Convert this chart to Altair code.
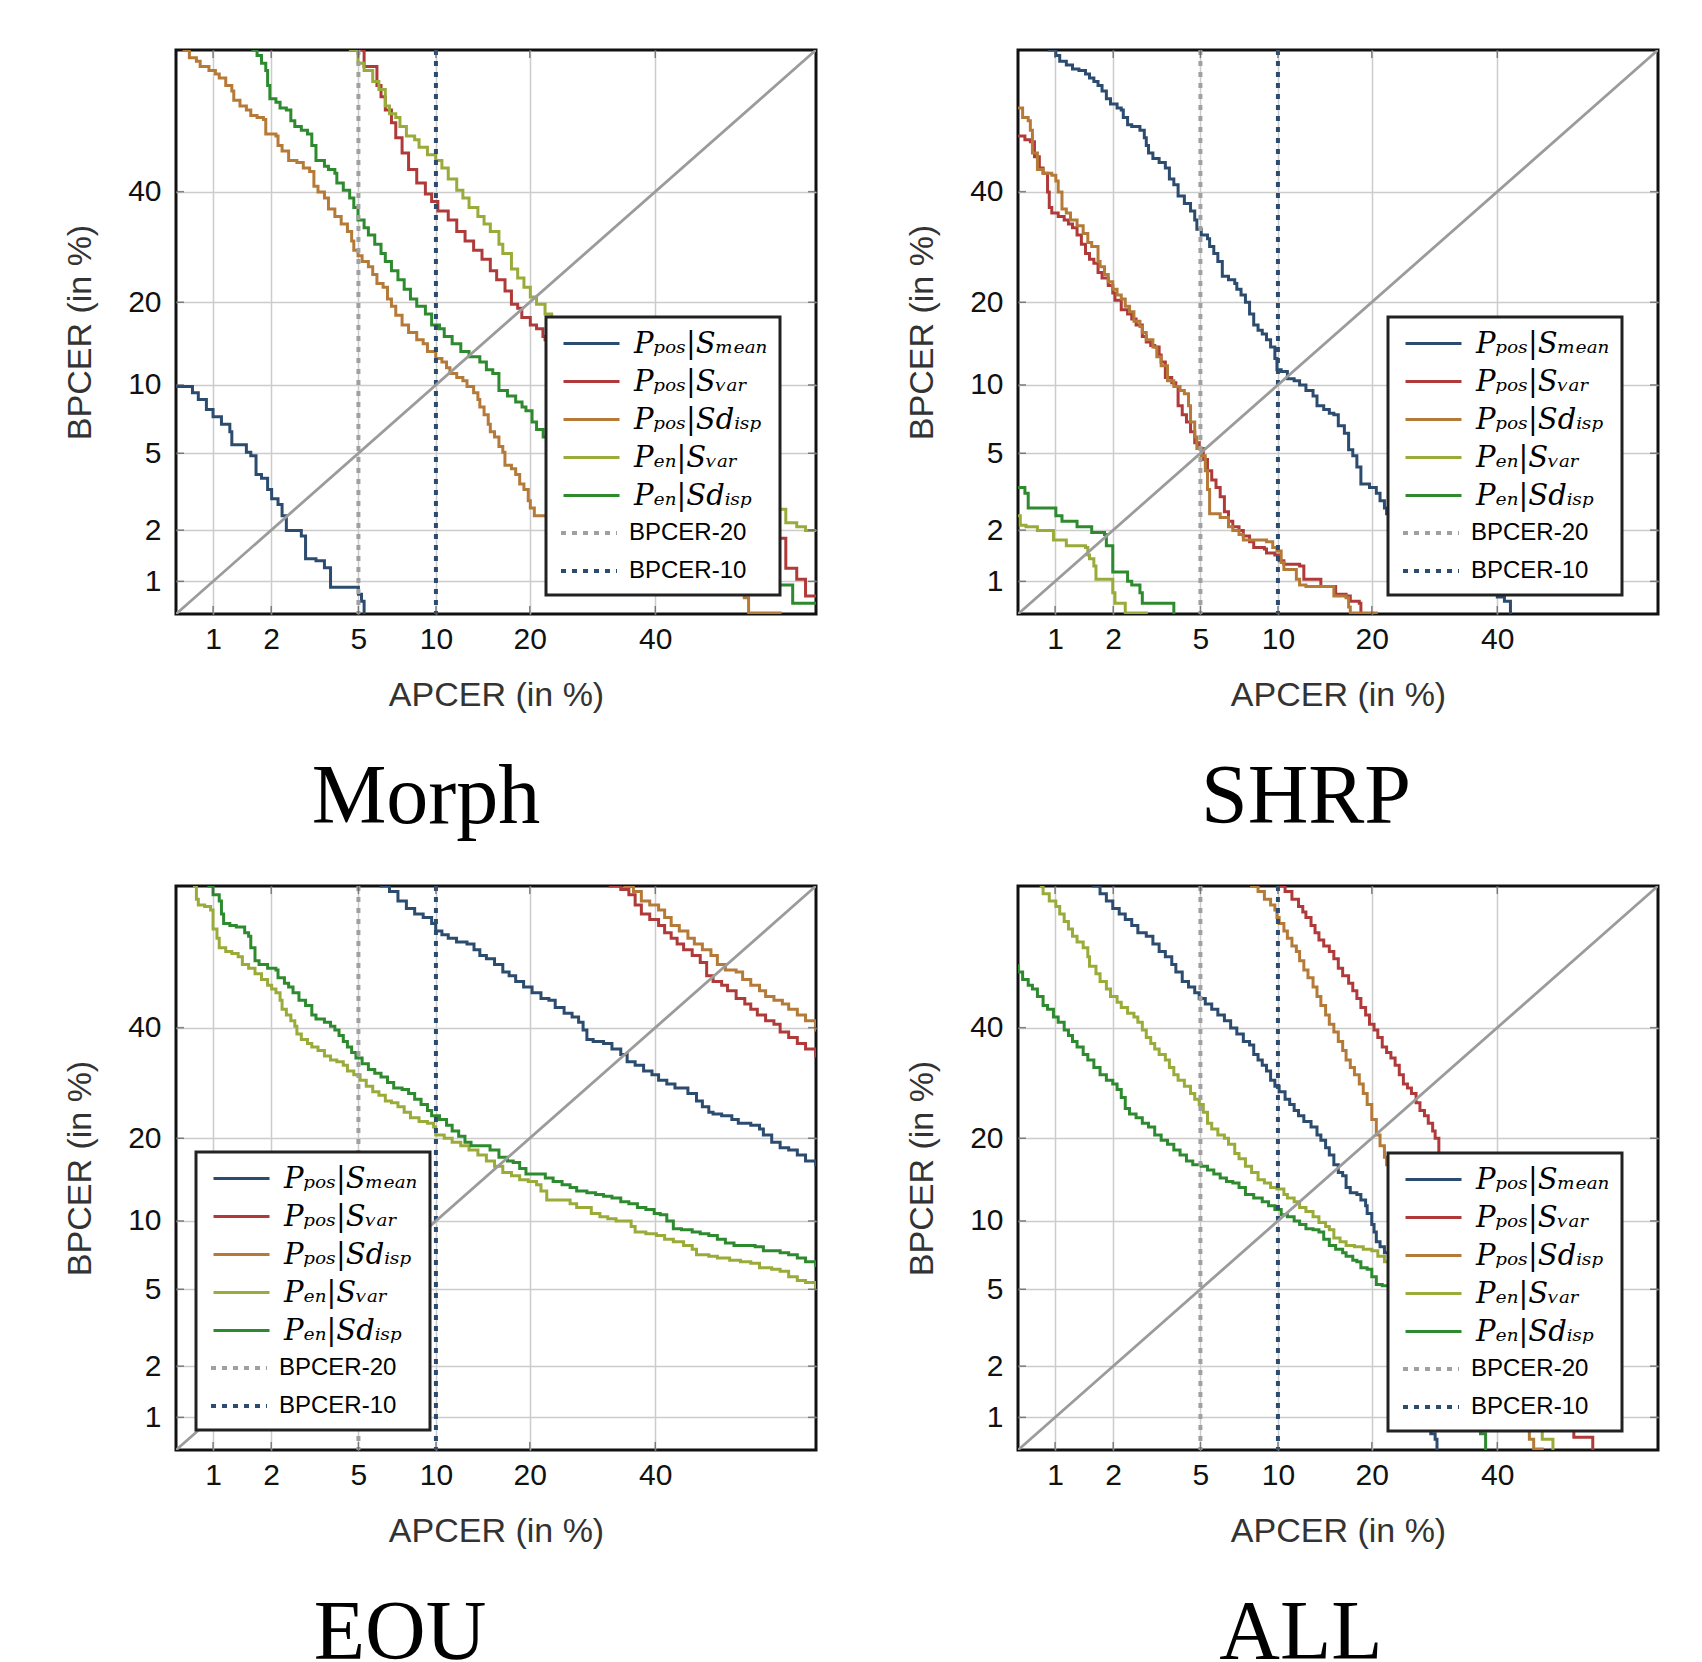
import altair as alt
import pandas as pd
from statistics import NormalDist

# ---------------- legend entries / styling lists ----------------
SERIES = ["Pₚₒₛ|Sₘₑₐₙ", "Pₚₒₛ|Sᵥₐᵣ", "Pₚₒₛ|Sdᵢₛₚ", "Pₑₙ|Sᵥₐᵣ", "Pₑₙ|Sdᵢₛₚ"]
COLORS = ["#2b4b6f", "#b03a3a", "#b57a38", "#9aab3a", "#2e8a2e"]
BLINES = ["BPCER-20", "BPCER-10"]
BLINE_COLORS = ["#a0a0a0", "#2b4b6f"]
BLINE_DASH = [[5, 6], [5, 6]]
TICKS = [1, 2, 5, 10, 20, 40]          # axis tick labels (in %)
BPCER_APCER = [5, 10]                  # APCER (%) of the BPCER-20 / BPCER-10 lines
DIAG = [0.3, 80]                       # EER diagonal end points (%)
AXIS_LIMITS = [-2.5, 0.5]              # probit (normal deviate) limits of both axes

# ---------------- Morph ----------------
MORPH_MEAN_X = [0.5, 0.77, 0.83, 0.92, 1.0, 1.11, 1.23, 1.26, 1.5, 1.58, 1.68, 1.79, 1.92, 2.01, 2.16, 2.26, 2.37, 2.79, 2.92, 3.26, 3.56, 3.79, 5.0, 5.15, 5.28]
MORPH_MEAN_Y = [9.85, 9.3, 8.7, 7.9, 7.35, 6.8, 6.3, 5.48, 5.06, 4.86, 3.94, 3.77, 3.30, 2.96, 2.76, 2.40, 1.99, 1.85, 1.37, 1.33, 1.21, 0.92, 0.83, 0.75, 0.4]
MORPH_VAR_X = [4.55, 4.68, 5.28, 5.96, 6.19, 6.44, 6.81, 7.08, 7.49, 7.93, 8.51, 9.16, 9.65, 10.16, 11.05, 11.82, 12.61, 13.46, 14.33, 15.23, 15.94, 16.91, 17.68, 18.45, 18.97, 20.07, 20.9, 21.77, 22.06, 25.0, 28.3, 32.0, 35.3, 39.0, 42.9, 47.0, 50.7, 54.5, 58.5, 64.0, 65.9, 67.4, 75]
MORPH_VAR_Y = [75, 69.2, 66.0, 62.2, 59.9, 57.2, 54.5, 51.3, 48.1, 44.6, 41.8, 39.5, 38.0, 36.1, 34.3, 32.1, 30.3, 28.6, 27.0, 25.0, 23.5, 21.7, 19.7, 19.1, 17.8, 16.8, 16.3, 15.3, 14.9, 12.6, 10.7, 9.0, 7.5, 6.2, 5.06, 4.1, 3.3, 2.5, 1.8, 1.2, 1.03, 0.81, 0.81]
MORPH_DISP_X = [0.62, 0.69, 0.74, 0.81, 0.85, 0.95, 1.03, 1.08, 1.17, 1.26, 1.29, 1.39, 1.50, 1.58, 1.70, 1.83, 1.88, 2.11, 2.16, 2.26, 2.43, 2.66, 2.85, 3.05, 3.19, 3.33, 3.56, 3.71, 3.96, 4.22, 4.49, 4.68, 4.78, 4.98, 5.18, 5.50, 5.73, 5.96, 6.31, 6.57, 6.81, 7.08, 7.49, 7.93, 8.51, 8.99, 9.32, 9.98, 10.5, 10.9, 11.2, 11.82, 12.4, 12.8, 13.46, 13.9, 14.1, 14.55, 15.0, 15.23, 15.7, 16.2, 16.65, 16.9, 17.68, 18.2, 18.7, 19.24, 19.8, 20.07, 20.6, 25, 30, 35, 40, 45, 50, 56.5, 57.3, 63.0]
MORPH_DISP_Y = [75, 69.15, 67.7, 67.0, 66.0, 65.2, 64.5, 63.7, 62.2, 61.1, 59.2, 58.0, 57.2, 56.0, 55.6, 55.2, 52.1, 51.7, 49.7, 48.5, 46.5, 46.1, 44.9, 44.2, 41.1, 39.9, 38.7, 36.5, 35.0, 33.5, 32.1, 30.3, 28.6, 27.6, 26.6, 25.7, 24.4, 22.9, 22.3, 20.5, 19.4, 18.1, 16.8, 15.8, 14.9, 14.4, 13.5, 12.7, 12.3, 11.7, 11.1, 10.7, 10.4, 9.85, 9.3, 8.7, 8.1, 7.5, 6.8, 6.3, 5.95, 5.38, 5.06, 4.38, 4.2, 3.94, 3.53, 3.30, 2.89, 2.64, 2.40, 2.1, 1.8, 1.5, 1.3, 1.15, 1.0, 0.79, 0.63, 0.3]
MORPH_EN_VAR_X = [4.5, 4.62, 4.98, 5.28, 5.73, 6.07, 6.44, 6.69, 7.08, 7.35, 7.78, 8.36, 8.68, 9.32, 9.98, 10.5, 11.05, 11.82, 12.4, 13.0, 13.9, 14.55, 15.23, 16.2, 16.65, 17.68, 18.45, 19.24, 20.07, 20.9, 22.06, 23.0, 24.5, 26.0, 28.0, 30.0, 35.0, 40.0, 45.0, 50.0, 55.0, 60.0, 64.0, 65.9, 67.4, 75]
MORPH_EN_VAR_Y = [75, 69.15, 66.6, 65.2, 63.0, 61.4, 58.0, 56.4, 55.6, 53.7, 51.7, 50.9, 49.3, 47.7, 46.5, 44.9, 42.6, 40.3, 38.7, 36.8, 35.0, 33.5, 32.1, 29.7, 28.0, 25.3, 23.8, 22.3, 20.8, 19.7, 18.3, 17.3, 16.0, 15.0, 13.5, 12.0, 9.5, 7.0, 5.5, 4.2, 3.3, 2.6, 2.2, 2.09, 1.99, 1.99]
MORPH_EN_DISP_X = [1.55, 1.62, 1.70, 1.79, 1.88, 1.92, 1.97, 2.11, 2.21, 2.37, 2.49, 2.60, 2.79, 2.98, 3.12, 3.26, 3.56, 3.71, 3.96, 4.04, 4.31, 4.59, 4.78, 4.98, 5.28, 5.50, 5.84, 6.19, 6.44, 6.81, 7.22, 7.63, 8.06, 8.51, 9.16, 9.65, 10.3, 10.7, 11.4, 12.2, 13.0, 14.1, 14.8, 15.5, 16.2, 17.2, 18.2, 19.0, 19.5, 20.3, 20.9, 21.8, 25, 30, 35, 40, 45, 50, 55, 60, 65.2, 75]
MORPH_EN_DISP_Y = [75, 69.15, 68.1, 66.6, 65.2, 62.2, 59.5, 58.8, 57.6, 57.2, 54.9, 53.7, 52.9, 52.1, 49.7, 46.5, 45.3, 44.6, 43.8, 41.8, 40.3, 38.7, 36.8, 34.3, 32.8, 31.4, 29.7, 28.0, 26.6, 25.0, 23.5, 22.0, 20.5, 19.4, 18.3, 16.8, 16.3, 15.3, 14.4, 13.5, 12.9, 12.3, 11.5, 11.1, 9.5, 9.0, 8.5, 8.1, 7.8, 6.96, 6.44, 5.95, 4.5, 3.5, 2.6, 2.0, 1.6, 1.3, 1.1, 0.95, 0.73, 0.73]

# ---------------- SHRP ----------------
SHRP_MEAN_X = [0.85, 0.93, 1.01, 1.06, 1.15, 1.24, 1.34, 1.45, 1.52, 1.60, 1.68, 1.76, 1.85, 1.94, 2.09, 2.19, 2.24, 2.35, 2.46, 2.69, 2.82, 2.88, 2.95, 3.09, 3.30, 3.52, 3.67, 3.84, 4.01, 4.27, 4.54, 4.73, 4.83, 5.04, 5.35, 5.46, 5.68, 5.90, 6.15, 6.51, 6.89, 7.02, 7.29, 7.58, 7.86, 8.15, 8.46, 8.77, 9.09, 9.41, 9.75, 9.92, 10.27, 10.8, 11.4, 11.9, 12.5, 13.2, 13.6, 14.3, 14.9, 15.4, 15.9, 16.6, 17.1, 17.6, 18.1, 18.6, 19.7, 20.6, 21.1, 21.7, 22.0, 25.0, 28.0, 31.0, 34.0, 37.0, 40.0, 41.3, 42.4]
SHRP_MEAN_Y = [75, 69.15, 68.1, 67.0, 66.3, 65.5, 65.2, 64.5, 63.7, 63.0, 62.2, 61.1, 59.5, 58.4, 57.6, 57.2, 55.6, 54.1, 53.7, 52.9, 51.3, 49.7, 48.1, 46.9, 46.1, 44.9, 42.6, 41.4, 39.1, 37.6, 36.1, 34.3, 32.5, 31.4, 30.7, 29.3, 28.0, 26.6, 24.1, 23.5, 22.9, 22.0, 21.1, 20.0, 18.3, 16.8, 16.1, 15.6, 14.9, 14.0, 12.7, 11.5, 11.3, 10.6, 10.4, 10.0, 9.5, 9.0, 8.2, 7.9, 7.6, 7.5, 6.7, 6.2, 5.2, 4.86, 4.29, 3.53, 3.38, 3.16, 2.89, 2.64, 2.46, 2.0, 1.7, 1.35, 1.1, 0.92, 0.8, 0.75, 0.4]
SHRP_VAR_X = [0.5, 0.68, 0.73, 0.77, 0.82, 0.86, 0.91, 0.93, 0.96, 1.04, 1.12, 1.18, 1.24, 1.31, 1.38, 1.45, 1.52, 1.60, 1.68, 1.76, 1.89, 1.99, 2.04, 2.19, 2.35, 2.46, 2.58, 2.76, 2.88, 3.02, 3.15, 3.30, 3.37, 3.52, 3.76, 3.92, 4.01, 4.18, 4.36, 4.54, 4.73, 4.94, 5.14, 5.35, 5.57, 5.80, 6.03, 6.27, 6.51, 6.77, 7.16, 7.44, 7.86, 8.15, 8.93, 9.09, 9.75, 10.1, 10.5, 11.9, 12.3, 14.0, 15.6, 16.8, 17.3, 18.4, 18.6]
SHRP_VAR_Y = [51.7, 50.9, 50.5, 47.3, 44.9, 43.8, 39.9, 36.8, 35.7, 35.0, 34.3, 33.5, 32.8, 31.4, 29.7, 28.0, 27.0, 26.3, 24.7, 23.8, 22.6, 21.4, 20.3, 18.9, 18.3, 17.6, 16.8, 15.3, 14.6, 14.2, 14.0, 13.1, 12.3, 10.7, 10.2, 9.85, 8.2, 7.5, 6.96, 6.3, 5.6, 5.27, 4.67, 4.11, 3.69, 3.38, 3.03, 2.52, 2.24, 2.09, 1.99, 1.85, 1.72, 1.59, 1.56, 1.48, 1.44, 1.33, 1.27, 1.24, 1.03, 0.93, 0.83, 0.81, 0.75, 0.73, 0.4]
SHRP_DISP_X = [0.5, 0.66, 0.71, 0.73, 0.75, 0.80, 0.86, 0.96, 1.01, 1.04, 1.09, 1.15, 1.21, 1.31, 1.41, 1.49, 1.56, 1.68, 1.72, 1.81, 1.89, 1.99, 2.09, 2.19, 2.29, 2.40, 2.52, 2.69, 2.76, 2.88, 3.09, 3.22, 3.37, 3.60, 3.84, 4.09, 4.27, 4.45, 4.54, 4.73, 4.83, 5.04, 5.24, 5.35, 5.46, 6.03, 6.51, 6.77, 7.16, 7.44, 9.09, 9.58, 9.92, 10.27, 10.5, 11.6, 11.9, 12.5, 15.4, 16.8, 17.1, 17.3, 20.6]
SHRP_DISP_Y = [57.6, 55.6, 54.9, 52.9, 48.1, 44.6, 43.8, 43.4, 42.2, 39.9, 36.5, 35.7, 34.3, 33.2, 31.7, 30.0, 29.3, 26.6, 25.7, 24.4, 23.2, 22.0, 21.1, 20.5, 19.4, 18.6, 17.3, 16.6, 15.8, 14.9, 14.0, 12.9, 11.9, 10.4, 9.85, 9.5, 9.2, 8.2, 6.96, 5.95, 5.27, 4.86, 4.11, 3.30, 2.46, 2.35, 2.09, 1.99, 1.89, 1.76, 1.72, 1.59, 1.52, 1.30, 1.18, 1.03, 0.95, 0.93, 0.81, 0.79, 0.69, 0.63, 0.3]
SHRP_EN_VAR_X = [0.5, 0.64, 0.69, 0.80, 0.98, 1.15, 1.45, 1.49, 1.52, 1.60, 1.64, 1.99, 2.04, 2.29, 2.88]
SHRP_EN_VAR_Y = [2.40, 2.13, 2.09, 1.99, 1.76, 1.63, 1.59, 1.44, 1.37, 1.24, 1.03, 0.85, 0.73, 0.63, 0.3]
SHRP_EN_DISP_X = [0.5, 0.68, 0.71, 1.01, 1.09, 1.31, 1.56, 1.81, 1.85, 1.99, 2.35, 2.46, 2.69, 2.76, 3.84]
SHRP_EN_DISP_Y = [3.38, 3.16, 2.64, 2.40, 2.24, 2.09, 1.94, 1.89, 1.63, 1.14, 1.00, 0.95, 0.85, 0.73, 0.4]

# ---------------- EOU ----------------
EOU_MEAN_X = [6.0, 6.19, 6.69, 7.22, 7.78, 8.36, 8.99, 9.65, 9.98, 10.5, 11.05, 11.8, 12.8, 13.5, 14.1, 14.8, 15.7, 16.65, 17.4, 18.2, 19.2, 20.3, 21.5, 22.6, 23.5, 24.8, 26.0, 27.0, 27.7, 28.3, 29.3, 31.0, 32.4, 33.9, 35.0, 36.4, 37.9, 39.4, 40.6, 42.1, 43.6, 46.0, 47.6, 48.7, 49.9, 50.7, 52.3, 54.2, 55.4, 57.7, 59.3, 60.0, 61.5, 63.0, 64.5, 66.0, 67.4, 69.1, 75]
EOU_MEAN_Y = [75, 69.15, 68.1, 66.3, 64.8, 63.7, 63.0, 61.8, 60.3, 59.5, 58.8, 58.0, 57.6, 56.4, 55.2, 54.5, 53.3, 51.7, 50.9, 49.7, 48.5, 47.3, 46.1, 45.7, 44.2, 43.0, 42.2, 41.1, 39.5, 37.6, 37.2, 36.8, 35.7, 34.6, 33.2, 32.5, 31.4, 30.7, 29.7, 29.0, 28.3, 27.3, 26.0, 25.0, 24.1, 23.8, 23.5, 22.9, 22.3, 22.0, 21.4, 20.5, 19.4, 18.6, 18.3, 17.6, 16.8, 16.3, 16.3]
EOU_VAR_X = [31.5, 32.1, 33.9, 35.3, 36.4, 37.5, 39.0, 40.6, 41.7, 42.9, 44.0, 45.2, 46.8, 48.3, 49.5, 50.7, 52.3, 53.4, 55.0, 56.6, 57.7, 58.9, 60.4, 61.9, 63.0, 64.5, 66.0, 67.4, 69.1, 75]
EOU_VAR_Y = [75, 69.15, 68.5, 67.5, 65.5, 63.7, 62.6, 61.4, 59.9, 58.8, 57.6, 56.4, 55.2, 53.7, 50.9, 49.7, 48.9, 47.7, 46.1, 44.9, 43.8, 42.6, 41.4, 40.7, 39.1, 38.0, 36.8, 35.7, 34.3, 34.3]
EOU_DISP_X = [34.0, 34.6, 36.1, 37.5, 39.0, 40.6, 41.7, 42.9, 44.4, 46.0, 47.2, 48.7, 50.3, 51.5, 53.0, 55.0, 56.2, 57.7, 59.3, 60.4, 61.9, 63.4, 64.5, 66.0, 67.4, 69.1, 75]
EOU_DISP_Y = [75, 69.15, 68.1, 66.3, 65.5, 64.5, 63.0, 61.4, 60.3, 58.8, 57.6, 56.4, 55.2, 53.3, 52.1, 51.7, 50.1, 48.9, 47.7, 46.5, 45.7, 44.9, 43.8, 42.6, 41.4, 39.5, 39.5]
EOU_EN_VAR_X = [0.7, 0.79, 0.81, 0.83, 0.90, 0.97, 1.0, 1.05, 1.08, 1.17, 1.26, 1.36, 1.43, 1.54, 1.66, 1.79, 1.92, 2.01, 2.11, 2.21, 2.26, 2.37, 2.49, 2.60, 2.66, 2.79, 2.98, 3.12, 3.33, 3.56, 3.79, 4.04, 4.31, 4.49, 4.78, 5.08, 5.39, 5.73, 6.07, 6.44, 6.81, 7.22, 7.63, 8.06, 8.68, 9.32, 9.81, 9.98, 10.7, 11.4, 12.2, 13.0, 13.9, 14.8, 15.7, 16.65, 17.68, 18.7, 19.8, 20.9, 21.5, 22.3, 25.7, 26.7, 29.0, 30.4, 31.7, 33.1, 35.7, 36.4, 38.3, 40.2, 41.7, 43.3, 45.2, 46.8, 47.6, 49.9, 51.5, 53.8, 55.8, 57.7, 59.3, 61.5, 63.0, 64.5, 66.0, 67.4, 69.1, 75]
EOU_EN_VAR_Y = [75, 69.15, 66.6, 65.5, 65.2, 64.5, 60.7, 58.8, 56.8, 56.0, 55.6, 54.9, 53.3, 52.5, 51.3, 50.1, 48.9, 48.1, 47.3, 45.7, 43.8, 42.6, 41.4, 40.3, 38.7, 37.6, 36.8, 36.1, 35.4, 34.3, 33.5, 33.2, 32.5, 31.4, 30.7, 29.7, 28.6, 27.6, 27.0, 26.0, 25.7, 25.0, 24.1, 23.2, 22.6, 22.3, 21.7, 20.5, 20.0, 19.4, 18.9, 18.3, 17.6, 16.8, 16.1, 15.3, 14.9, 14.4, 14.2, 13.8, 13.1, 12.1, 11.7, 11.3, 10.7, 10.4, 10.2, 10.0, 9.5, 9.0, 8.85, 8.7, 8.4, 8.2, 7.9, 7.6, 7.2, 7.08, 6.96, 6.8, 6.7, 6.6, 6.3, 6.2, 6.07, 5.72, 5.5, 5.38, 5.06, 5.06]
EOU_EN_DISP_X = [0.85, 0.95, 1.0, 1.08, 1.11, 1.14, 1.23, 1.33, 1.47, 1.54, 1.58, 1.66, 1.74, 1.92, 2.11, 2.16, 2.32, 2.43, 2.55, 2.72, 2.92, 3.12, 3.26, 3.56, 3.79, 3.96, 4.13, 4.31, 4.49, 4.68, 4.88, 5.18, 5.50, 5.84, 6.19, 6.57, 6.95, 7.49, 7.93, 8.36, 8.83, 9.32, 9.65, 10.3, 10.9, 11.4, 12.0, 12.6, 13.2, 15.2, 16.2, 17.2, 17.9, 18.7, 19.5, 22.1, 23.2, 24.5, 25.7, 26.7, 28.3, 29.7, 31.0, 32.4, 33.9, 35.3, 36.8, 38.3, 39.8, 40.9, 42.1, 43.3, 44.8, 46.8, 48.3, 49.9, 51.5, 53.0, 54.6, 58.5, 60.0, 63.0, 64.5, 66.0, 67.4, 69.1, 75]
EOU_EN_DISP_Y = [75, 69.15, 67.5, 66.3, 63.7, 61.8, 61.4, 61.1, 59.9, 59.2, 56.8, 54.1, 53.3, 52.5, 52.1, 50.5, 49.3, 48.5, 47.3, 45.7, 44.6, 42.6, 41.8, 41.1, 40.3, 39.5, 38.4, 37.2, 36.1, 35.0, 33.9, 32.8, 31.7, 31.0, 30.3, 29.3, 28.3, 28.0, 27.3, 26.3, 25.4, 24.4, 23.5, 22.9, 22.0, 21.1, 20.3, 19.4, 18.9, 18.3, 17.3, 16.8, 16.6, 15.8, 15.1, 14.6, 14.2, 13.8, 13.5, 13.1, 12.9, 12.7, 12.5, 12.3, 11.9, 11.7, 11.3, 11.1, 10.7, 10.6, 10.0, 9.3, 9.2, 9.0, 8.85, 8.7, 8.4, 8.1, 7.9, 7.8, 7.5, 7.35, 7.2, 6.96, 6.7, 6.44, 6.44]

# ---------------- ALL ----------------
ALL_MEAN_X = [1.5, 1.60, 1.72, 1.85, 1.99, 2.14, 2.29, 2.46, 2.63, 2.88, 3.09, 3.30, 3.52, 3.76, 3.92, 4.18, 4.45, 4.73, 4.94, 5.24, 5.57, 5.90, 6.27, 6.64, 7.02, 7.44, 7.86, 8.15, 8.46, 8.77, 9.09, 9.41, 9.75, 10.1, 10.6, 11.0, 11.4, 11.8, 12.3, 13.0, 13.6, 14.0, 14.5, 14.9, 15.4, 15.9, 16.4, 16.8, 17.3, 18.1, 18.6, 19.2, 19.4, 20.0, 20.3, 20.6, 21.1, 21.7, 22.3, 24.0, 26.0, 27.5, 28.6, 29.3, 29.6]
ALL_MEAN_Y = [75, 69.15, 67.7, 66.3, 64.8, 63.7, 62.6, 61.4, 59.9, 59.2, 57.6, 56.0, 54.9, 53.3, 51.7, 49.7, 48.5, 47.3, 46.1, 44.9, 43.8, 42.6, 41.4, 39.9, 38.7, 37.2, 36.5, 34.6, 33.5, 32.5, 31.4, 29.7, 28.6, 27.6, 26.3, 25.4, 24.4, 23.5, 22.6, 21.7, 20.5, 19.7, 18.6, 17.6, 16.3, 15.3, 14.9, 13.5, 12.9, 12.7, 12.1, 11.5, 10.7, 9.68, 9.0, 8.2, 7.8, 7.35, 6.7, 4.0, 2.2, 1.3, 0.79, 0.73, 0.4]
ALL_VAR_X = [9.9, 10.1, 10.6, 11.2, 11.8, 12.2, 12.5, 13.0, 13.4, 13.8, 14.3, 14.9, 15.4, 15.9, 16.4, 17.1, 17.6, 18.1, 18.6, 19.2, 19.7, 20.3, 20.8, 21.4, 22.0, 22.6, 23.2, 23.8, 24.4, 25.0, 25.6, 26.3, 26.9, 27.6, 28.2, 28.9, 29.3, 29.9, 35.0, 40.0, 45.0, 50.0, 53.0, 54.2, 57.7]
ALL_VAR_Y = [75, 69.15, 68.1, 66.6, 65.2, 64.1, 63.0, 61.4, 59.9, 58.4, 57.2, 56.0, 54.5, 52.5, 50.9, 49.3, 47.7, 46.1, 44.2, 42.6, 40.7, 39.5, 38.0, 36.1, 35.0, 33.9, 32.5, 30.7, 29.0, 28.3, 27.3, 25.7, 24.4, 23.5, 22.3, 21.1, 20.0, 17.8, 10.0, 6.0, 3.5, 2.0, 1.2, 0.75, 0.4]
ALL_DISP_X = [7.8, 8.0, 8.46, 8.93, 9.41, 9.75, 9.92, 10.1, 10.5, 10.8, 11.2, 11.6, 11.9, 12.3, 12.7, 13.2, 13.6, 14.0, 14.5, 14.9, 15.4, 15.9, 16.4, 16.8, 17.3, 17.8, 18.4, 18.9, 19.4, 20.0, 20.6, 21.1, 21.7, 22.0, 26.0, 30.0, 35.0, 40.0, 44.0, 45.9, 46.7, 48.3]
ALL_DISP_Y = [75, 69.15, 68.1, 66.6, 65.5, 64.5, 63.0, 61.8, 60.3, 58.8, 57.2, 56.0, 54.1, 52.1, 50.5, 48.5, 46.5, 44.6, 42.6, 40.7, 39.1, 37.2, 35.4, 33.5, 32.1, 30.7, 29.0, 27.3, 25.4, 22.9, 20.5, 18.9, 17.3, 16.3, 9.0, 5.5, 3.0, 1.7, 1.1, 0.73, 0.63, 0.3]
ALL_EN_VAR_X = [0.8, 0.84, 0.86, 0.93, 1.01, 1.06, 1.12, 1.18, 1.24, 1.31, 1.41, 1.49, 1.52, 1.64, 1.72, 1.85, 1.94, 2.09, 2.19, 2.35, 2.52, 2.63, 2.76, 2.88, 3.02, 3.15, 3.30, 3.52, 3.67, 3.84, 4.01, 4.27, 4.54, 4.73, 4.94, 5.14, 5.35, 5.57, 5.90, 6.27, 6.51, 6.89, 7.16, 7.58, 8.0, 8.46, 8.93, 9.41, 9.92, 10.5, 10.8, 11.4, 11.9, 12.5, 13.2, 13.8, 14.5, 14.9, 15.4, 16.1, 16.8, 17.8, 18.9, 20.0, 20.8, 21.7, 22.3, 26.0, 32.0, 38.0, 44.0, 47.0, 48.3, 50.3]
ALL_EN_VAR_Y = [75, 69.15, 67.7, 66.3, 65.2, 63.7, 62.2, 60.7, 59.2, 58.0, 56.8, 54.9, 52.9, 51.3, 49.7, 48.1, 46.5, 45.3, 44.2, 43.0, 42.2, 41.1, 39.5, 38.0, 36.8, 35.7, 34.6, 33.5, 32.1, 30.7, 29.7, 28.6, 27.3, 26.3, 25.4, 24.1, 22.3, 21.4, 20.5, 20.0, 19.1, 17.8, 17.1, 16.1, 15.3, 14.4, 14.0, 13.5, 13.3, 12.7, 12.3, 11.9, 11.3, 10.9, 10.4, 9.85, 9.5, 9.2, 8.5, 8.2, 7.9, 7.8, 7.6, 7.5, 7.08, 6.7, 6.44, 4.5, 3.0, 2.0, 1.3, 0.9, 0.73, 0.3]
ALL_EN_DISP_X = [0.5, 0.62, 0.66, 0.71, 0.75, 0.80, 0.86, 0.91, 0.98, 1.04, 1.12, 1.18, 1.24, 1.31, 1.41, 1.49, 1.60, 1.72, 1.85, 1.99, 2.09, 2.19, 2.29, 2.40, 2.58, 2.76, 2.95, 3.15, 3.37, 3.60, 3.84, 4.09, 4.36, 4.64, 5.04, 5.35, 5.68, 6.03, 6.39, 6.77, 7.16, 7.58, 8.15, 8.77, 9.25, 9.75, 10.27, 10.8, 11.4, 11.9, 12.5, 13.2, 13.8, 14.3, 14.9, 15.6, 16.4, 16.8, 17.6, 18.1, 18.6, 19.4, 20.0, 20.6, 21.4, 22.3, 26.0, 30.0, 34.0, 37.0, 37.9]
ALL_EN_DISP_Y = [53.0, 51.7, 50.1, 48.9, 48.1, 46.5, 44.6, 43.8, 42.2, 41.1, 39.5, 38.4, 37.2, 36.1, 34.6, 33.5, 32.1, 30.7, 29.7, 29.0, 28.0, 26.6, 24.7, 23.8, 23.2, 22.3, 21.7, 20.5, 19.7, 19.1, 18.3, 17.6, 16.8, 16.3, 16.1, 15.6, 15.1, 14.6, 14.2, 14.0, 13.5, 12.7, 12.3, 11.9, 11.5, 11.1, 10.6, 10.4, 10.0, 9.68, 9.3, 9.2, 9.0, 8.4, 7.9, 7.6, 7.35, 7.08, 6.8, 6.7, 6.3, 6.2, 5.72, 5.27, 5.2, 5.06, 3.2, 2.0, 1.3, 0.79, 0.4]

PANELS = [
    ("Morph", [(MORPH_MEAN_X, MORPH_MEAN_Y), (MORPH_VAR_X, MORPH_VAR_Y), (MORPH_DISP_X, MORPH_DISP_Y),
               (MORPH_EN_VAR_X, MORPH_EN_VAR_Y), (MORPH_EN_DISP_X, MORPH_EN_DISP_Y)]),
    ("SHRP", [(SHRP_MEAN_X, SHRP_MEAN_Y), (SHRP_VAR_X, SHRP_VAR_Y), (SHRP_DISP_X, SHRP_DISP_Y),
              (SHRP_EN_VAR_X, SHRP_EN_VAR_Y), (SHRP_EN_DISP_X, SHRP_EN_DISP_Y)]),
    ("EOU", [(EOU_MEAN_X, EOU_MEAN_Y), (EOU_VAR_X, EOU_VAR_Y), (EOU_DISP_X, EOU_DISP_Y),
             (EOU_EN_VAR_X, EOU_EN_VAR_Y), (EOU_EN_DISP_X, EOU_EN_DISP_Y)]),
    ("ALL", [(ALL_MEAN_X, ALL_MEAN_Y), (ALL_VAR_X, ALL_VAR_Y), (ALL_DISP_X, ALL_DISP_Y),
             (ALL_EN_VAR_X, ALL_EN_VAR_Y), (ALL_EN_DISP_X, ALL_EN_DISP_Y)]),
]

# ---------------- chart construction ----------------
W, H = 640, 564
TICK_Z = [NormalDist().inv_cdf(t / 100) for t in TICKS]
LABEL_EXPR = "format(cumulativeNormal(datum.value) * 100, '.0f')"
PROBIT_X = "quantileNormal(datum.apcer / 100)"
PROBIT_Y = "quantileNormal(datum.bpcer / 100)"
SYMBOL = "M-2.8,0H2.8"   # a long horizontal stroke as legend symbol


def curves_frame(curves):
    rows = []
    for name, (xs, ys) in zip(SERIES, curves):
        assert len(xs) == len(ys), name
        for i, (a, b) in enumerate(zip(xs, ys)):
            rows.append({"series": name, "apcer": a, "bpcer": b, "idx": i})
    return pd.DataFrame(rows)


def panel(title, curves, legend_xy, title_dx):
    lx, ly = legend_xy
    xscale = alt.Scale(domain=AXIS_LIMITS, nice=False, zero=False)
    yscale = alt.Scale(domain=AXIS_LIMITS, nice=False, zero=False)
    xaxis = alt.Axis(values=TICK_Z, labelExpr=LABEL_EXPR, title="APCER (in %)")
    yaxis = alt.Axis(values=TICK_Z, labelExpr=LABEL_EXPR, title="BPCER (in %)")
    common = dict(orient="none", symbolType=SYMBOL, symbolSize=400,
                  symbolOffset=19, labelOffset=28, labelLimit=400, labelColor="black",
                  padding=12, cornerRadius=0)
    # curve legend: framed box, blank two-line title at the bottom leaves room for the BPCER rows
    leg_curves = alt.Legend(
        legendX=lx, legendY=ly, title=["\u00a0", "\u00a0"], titleOrient="bottom",
        titleFontSize=24, titleLineHeight=30, titlePadding=18,
        labelFont="DejaVu Serif", labelFontStyle="italic", labelFontSize=29, rowPadding=8,
        symbolStrokeWidth=3, strokeColor="#222222", fillColor="white", zindex=1, **common)
    leg_lines = alt.Legend(
        legendX=lx, legendY=ly + 192, title=None, labelFont="Liberation Sans", labelFontSize=24,
        rowPadding=14, symbolStrokeWidth=4, zindex=2, **common)

    color = alt.Color("series:N", scale=alt.Scale(domain=SERIES, range=COLORS), legend=leg_curves)
    lines = alt.Chart(curves_frame(curves)).transform_calculate(
        px=PROBIT_X, py=PROBIT_Y
    ).mark_line(interpolate="step-after", clip=True, strokeWidth=3).encode(
        x=alt.X("px:Q", scale=xscale, axis=xaxis),
        y=alt.Y("py:Q", scale=yscale, axis=yaxis),
        color=color, order="idx:Q",
    )
    rules = alt.Chart(pd.DataFrame({"bline": BLINES, "apcer": BPCER_APCER})).transform_calculate(
        px=PROBIT_X
    ).mark_rule(clip=True, strokeWidth=4).encode(
        x="px:Q",
        stroke=alt.Stroke("bline:N", scale=alt.Scale(domain=BLINES, range=BLINE_COLORS), legend=leg_lines),
        strokeDash=alt.StrokeDash("bline:N", scale=alt.Scale(domain=BLINES, range=BLINE_DASH), legend=leg_lines),
    )
    diag = alt.Chart(pd.DataFrame({"apcer": DIAG, "bpcer": DIAG})).transform_calculate(
        px=PROBIT_X, py=PROBIT_Y
    ).mark_line(clip=True, color="#9b9b9b", strokeWidth=2.8).encode(x="px:Q", y="py:Q")

    tk = alt.Chart(pd.DataFrame({"v": TICKS})).transform_calculate(z="quantileNormal(datum.v / 100)")
    tick_style = dict(clip=True, size=16, thickness=1.5, color="#555555")
    t_bottom = tk.mark_tick(orient="vertical", **tick_style).encode(x="z:Q", y=alt.datum(AXIS_LIMITS[0]))
    t_top = tk.mark_tick(orient="vertical", **tick_style).encode(x="z:Q", y=alt.datum(AXIS_LIMITS[1]))
    t_left = tk.mark_tick(orient="horizontal", **tick_style).encode(y="z:Q", x=alt.datum(AXIS_LIMITS[0]))
    t_right = tk.mark_tick(orient="horizontal", **tick_style).encode(y="z:Q", x=alt.datum(AXIS_LIMITS[1]))

    return alt.layer(lines, rules, diag, t_bottom, t_top, t_left, t_right).properties(
        width=W, height=H,
        title=alt.TitleParams(text=title, orient="bottom", anchor="middle", frame="group",
                              font="Liberation Serif", fontSize=84, fontWeight="normal",
                              color="black", offset=45, dx=title_dx),
    )


LEG_RIGHT = (370, 267)
LEG_LEFT = (20, 266)
p1 = panel(PANELS[0][0], PANELS[0][1], LEG_RIGHT, -70)
p2 = panel(PANELS[1][0], PANELS[1][1], LEG_RIGHT, -32)
p3 = panel(PANELS[2][0], PANELS[2][1], LEG_LEFT, -96)
p4 = panel(PANELS[3][0], PANELS[3][1], LEG_RIGHT, -37)

ind = dict(color="independent", stroke="independent", strokeDash="independent")
top = alt.hconcat(p1, p2, spacing=86).resolve_scale(**ind)
bottom = alt.hconcat(p3, p4, spacing=86).resolve_scale(**ind)
chart = alt.vconcat(top, bottom, spacing=42).resolve_scale(**ind).properties(
    padding={"left": 54, "top": 40, "right": 5, "bottom": 5}
).configure(background="white").configure_view(
    stroke="#111111", strokeWidth=3
).configure_axis(
    domain=False, ticks=False, grid=True, gridColor="#cccccc", gridWidth=1.5,
    labelFont="Liberation Sans", labelFontSize=30, labelColor="#111111",
    titleFont="Liberation Sans", titleFontSize=34, titleFontWeight="normal", titleColor="#333333",
).configure_axisX(labelPadding=10, titlePadding=24).configure_axisY(
    labelPadding=15, titlePadding=30
).configure_legend(strokeWidth=3)

chart.save("out.html", embed_options={"renderer": "svg", "actions": False})
